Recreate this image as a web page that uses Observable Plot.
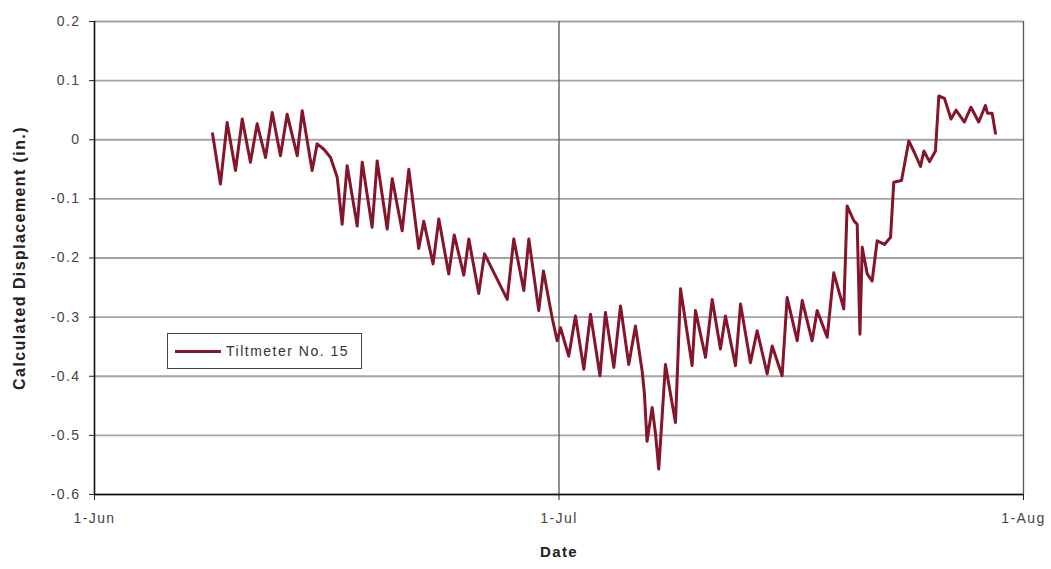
<!DOCTYPE html>
<html>
<head>
<meta charset="utf-8">
<script src="https://cdn.jsdelivr.net/npm/d3@7"></script>
<script src="https://cdn.jsdelivr.net/npm/@observablehq/plot@0.6"></script>
<style>
  body { margin: 0; background: #fff; }
  #chart { position: relative; width: 1051px; height: 569px; font-family: "Liberation Sans", Arial, sans-serif; }
  #chart svg text { letter-spacing: 1.4px; }
  #chart svg text.title-y { letter-spacing: 2px; }
  .legend {
    position: absolute; left: 167px; top: 333px; width: 195px; height: 36px;
    box-sizing: border-box; border: 1px solid #444; background: #fff;
    display: flex; align-items: center; font-size: 14px; color: #333; letter-spacing: 1.5px;
  }
  .legend .swatch { width: 46px; height: 3px; background: #85152a; margin: 0 5px 0 7px; }
</style>
</head>
<body>
<div id="chart"></div>
<script>
// Tiltmeter No. 15 — calculated displacement, June to August
const seriesName = "Tiltmeter No. 15";
const yTitle = "Calculated Displacement (in.)";
const xTitle = "Date";

// reading times, in days after 1 June (00:00)
const dayOffsets = [
  7.75, 8.27, 8.71, 9.26, 9.70, 10.24, 10.68, 11.23, 11.67, 12.21,
  12.65, 13.31, 13.64, 14.29, 14.62, 15.06, 15.50, 15.94, 16.26, 16.59,
  17.25, 17.58, 18.23, 18.56, 19.22, 19.55, 20.20, 20.64, 21.29, 21.62,
  22.23, 22.61, 23.26, 23.62, 24.25, 24.58, 25.23, 25.61, 27.10, 27.53,
  28.19, 28.52, 29.17, 29.48, 30.05, 30.38, 30.60, 31.14, 31.58, 32.13,
  32.57, 33.19, 33.55, 34.10, 34.54, 35.08, 35.52, 35.96, 36.11, 36.28,
  36.62, 36.84, 37.05, 37.49, 37.82, 38.15, 38.48, 39.24, 39.46, 40.12,
  40.56, 41.10, 41.43, 42.09, 42.42, 43.07, 43.51, 44.17, 44.50, 45.15,
  45.48, 46.14, 46.47, 47.12, 47.45, 48.11, 48.54, 49.20, 49.42, 49.86,
  50.08, 50.26, 50.41, 50.74, 51.06, 51.39, 51.87, 52.27, 52.48, 52.99,
  53.47, 53.84, 54.24, 54.46, 54.83, 55.22, 55.44, 55.81, 56.24, 56.57,
  57.12, 57.55, 58.06, 58.50, 58.63, 58.94, 59.16
];

// calculated displacement (in.)
const displacement = [
  0.010, -0.075, 0.029, -0.052, 0.035, -0.038, 0.027, -0.030, 0.046, -0.027,
  0.043, -0.027, 0.049, -0.052, -0.007, -0.016, -0.030, -0.064, -0.143, -0.044,
  -0.146, -0.038, -0.148, -0.036, -0.151, -0.066, -0.154, -0.050, -0.184, -0.138,
  -0.210, -0.134, -0.227, -0.161, -0.229, -0.168, -0.260, -0.193, -0.270, -0.168,
  -0.255, -0.168, -0.289, -0.222, -0.301, -0.340, -0.318, -0.366, -0.298, -0.388,
  -0.295, -0.399, -0.292, -0.385, -0.281, -0.380, -0.315, -0.391, -0.430, -0.510,
  -0.453, -0.498, -0.557, -0.380, -0.430, -0.478, -0.252, -0.382, -0.289, -0.368,
  -0.270, -0.354, -0.298, -0.382, -0.278, -0.377, -0.323, -0.396, -0.349, -0.399,
  -0.267, -0.340, -0.272, -0.340, -0.289, -0.334, -0.225, -0.286, -0.112, -0.137,
  -0.143, -0.329, -0.182, -0.227, -0.239, -0.171, -0.177, -0.165, -0.072, -0.069,
  -0.002, -0.022, -0.045, -0.019, -0.037, -0.019, 0.074, 0.070, 0.035, 0.050,
  0.030, 0.055, 0.030, 0.058, 0.045, 0.045, 0.011
];

const yTicks = [0.2, 0.1, 0, -0.1, -0.2, -0.3, -0.4, -0.5, -0.6];
const xStart = new Date(Date.UTC(2001, 5, 1));
const xEnd = new Date(Date.UTC(2001, 7, 1));
// month ticks spaced 30.5 days apart
const xTicks = [xStart, new Date(Date.UTC(2001, 6, 1, 12)), xEnd];

const readings = dayOffsets.map((d, i) => ({
  date: new Date(xStart.getTime() + d * 864e5),
  value: displacement[i]
}));

const fmtY = d => (Math.abs(d) < 1e-9 ? "0" : String(+d.toFixed(1)));
const fmtX = d3.utcFormat("%-d-%b");
const lineColor = "#85152a";

const chart = Plot.plot({
  width: 1051,
  height: 569,
  marginLeft: 94,
  marginRight: 28,
  marginTop: 21,
  marginBottom: 75,
  style: { fontFamily: '"Liberation Sans", Arial, sans-serif', fontSize: "14px", background: "#fff", overflow: "visible" },
  x: { type: "utc", domain: [xStart, xEnd] },
  y: { domain: [-0.6, 0.2] },
  marks: [
    Plot.gridY(yTicks, { stroke: "#a3a3a3", strokeOpacity: 1, strokeWidth: 1.8 }),
    Plot.gridX(xTicks.slice(1), { stroke: "#555", strokeOpacity: 1, strokeWidth: 1.3 }),
    Plot.ruleX([xStart], { stroke: "#111", strokeWidth: 1.6 }),
    Plot.ruleY([-0.6], { stroke: "#111", strokeWidth: 1.6 }),
    Plot.axisY(yTicks, { tickSize: 5, tickPadding: 9, tickFormat: fmtY, label: null, fill: "#444", stroke: "#222" }),
    Plot.axisX(xTicks, { tickSize: 6, tickPadding: 13, tickFormat: fmtX, label: null, fill: "#444", stroke: "#222" }),
    Plot.line(readings, { x: "date", y: "value", stroke: lineColor, strokeWidth: 3, strokeLinejoin: "round", curve: "linear" }),
    Plot.text([yTitle], {
      text: d => d, frameAnchor: "left", textAnchor: "middle", dx: -75, rotate: -90,
      fontWeight: "bold", fontSize: 16, fill: "#222", className: "title-y"
    }),
    Plot.text([xTitle], { text: d => d, frameAnchor: "bottom", dy: 62, fontWeight: "bold", fontSize: 15, fill: "#222" })
  ]
});

const root = document.getElementById("chart");
root.appendChild(chart);

const legend = document.createElement("div");
legend.className = "legend";
const swatch = document.createElement("span");
swatch.className = "swatch";
legend.appendChild(swatch);
legend.appendChild(document.createTextNode(seriesName));
root.appendChild(legend);
</script>
</body>
</html>
